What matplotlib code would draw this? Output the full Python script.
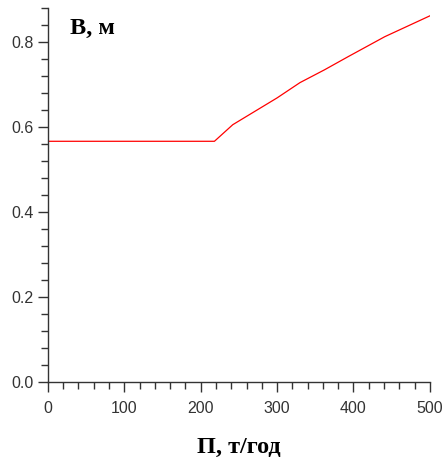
import matplotlib.pyplot as plt
import numpy as np
from matplotlib.ticker import MultipleLocator

# P, t/year vs B, m
p_vals = [0, 218, 242, 300, 330, 362, 393, 441, 500]
b_vals = [0.566, 0.566, 0.605, 0.668, 0.704, 0.734, 0.765, 0.812, 0.861]

x_label = 'П, т/год'
y_label = 'B, м'

fig = plt.figure(figsize=(4.44, 4.59), dpi=100)
ax = fig.add_axes([0.108, 0.168, 0.860, 0.815])

ax.plot(p_vals, b_vals, color='#ff0000', linewidth=0.9)

ax.set_xlim(0, 500)
ax.set_ylim(0, 0.88)
ax.xaxis.set_major_locator(MultipleLocator(100))
ax.xaxis.set_minor_locator(MultipleLocator(20))
ax.yaxis.set_major_locator(MultipleLocator(0.2))
ax.yaxis.set_minor_locator(MultipleLocator(0.04))
ax.yaxis.set_major_formatter(plt.FuncFormatter(lambda v, pos: '{:.1f}'.format(v)))

for s in ['top', 'right']:
  ax.spines[s].set_visible(False)
for s in ['left', 'bottom']:
  ax.spines[s].set_color('#333333')
  ax.spines[s].set_linewidth(1)

ax.tick_params(which='major', length=7, width=1, color='#333333',
               labelsize=11.5, labelcolor='#333333')
ax.tick_params(axis='x', which='major', pad=7)
ax.tick_params(which='minor', length=5, width=1, color='#333333')
for lab in ax.get_xticklabels() + ax.get_yticklabels():
  lab.set_fontfamily('Liberation Sans')

ax.text(0.057, 0.945, y_label, transform=ax.transAxes, fontsize=17.5,
        fontweight='bold', family='Liberation Serif', va='center')
ax.set_xlabel(x_label, fontsize=17.5, fontweight='bold',
              family='Liberation Serif', labelpad=15)

plt.savefig('out.png', dpi=100)
